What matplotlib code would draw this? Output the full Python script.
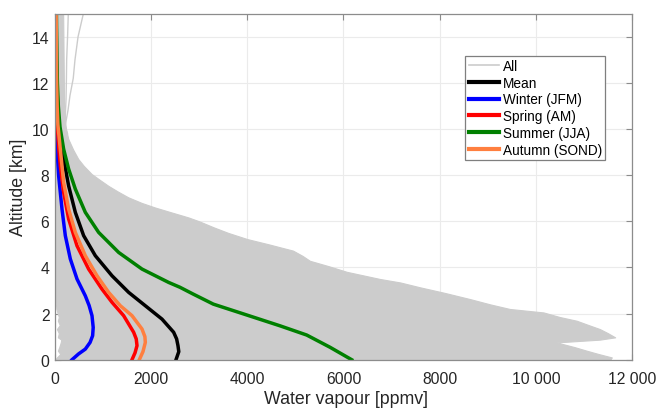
import matplotlib
matplotlib.use("Agg")
import matplotlib.pyplot as plt
from matplotlib.ticker import FuncFormatter

plt.rcParams['font.family'] = ['Liberation Sans', 'DejaVu Sans']

# Envolvente de todos los perfiles (altitud en km, vapor en ppmv)
todos_alt = [0.0, 0.1, 0.25, 0.39, 0.55, 0.75, 0.87, 0.97, 1.15, 1.33, 1.5, 1.69,
             1.85, 2.05, 2.2, 2.4, 2.63, 2.9, 3.14, 3.35, 3.5, 3.81, 4.05, 4.29,
             4.5, 4.73, 5.0, 5.23, 5.5, 5.74, 6.0, 6.17, 6.4, 6.6, 6.8, 7.04,
             7.3, 7.54, 7.8, 8.05, 8.4, 8.7, 9.1, 9.57, 10.0, 10.4, 11.0, 13.0, 15.0]
todos_max = [11550, 11580, 11300, 11060, 10800, 10430, 11330, 11650, 11500, 11330,
             11100, 10850, 10500, 10160, 9460, 9050, 8630, 8100, 7590, 7180, 6760,
             6070, 5700, 5300, 5150, 4950, 4450, 4000, 3600, 3300, 3000, 2773, 2400,
             2080, 1800, 1525, 1300, 1109, 930, 763, 600, 485, 380, 277, 230, 205,
             190, 180, 170]
todos_min = [0, 40, 110, 60, 90, 120, 130, 60, 80, 40, 100, 60,
             80, 50, 30, 20, 0, 0, 0, 0, 0, 0, 0, 0,
             0, 0, 0, 0, 0, 0, 0, 0, 0, 0, 0, 0,
             0, 0, 0, 0, 0, 0, 0, 0, 0, 0, 0, 0, 0]

# Perfiles sueltos por encima de la tropopausa
suelto1_alt = [9.8, 10.1, 10.8, 11.45, 12.2, 13.0, 14.0, 15.0]
suelto1_val = [260, 208, 270, 312, 380, 416, 480, 590]
suelto2_alt = [9.9, 10.6, 11.3, 12.2, 13.0, 14.0, 15.0]
suelto2_val = [210, 215, 230, 238, 243, 262, 277]

# Media
media_alt = [0.0, 0.35, 0.61, 0.9, 1.19, 1.76, 2.34, 2.92, 3.64, 4.51, 5.38, 6.39,
             7.54, 8.7, 9.5, 10.2, 11, 12, 13, 14, 15]
media_val = [2517, 2575, 2558, 2530, 2468, 2226, 1879, 1532, 1186, 839, 596, 423,
             284, 180, 120, 80, 55, 40, 32, 28, 25]

# Invierno (JFM)
inv_alt = [0.0, 0.25, 0.46, 0.75, 1.04, 1.4, 1.91, 2.35, 2.77, 3.5, 4.37, 5.38,
           6.53, 7.98, 9.13, 10.2, 11, 12, 13, 14, 15]
inv_val = [354, 490, 631, 730, 783, 795, 770, 710, 631, 458, 319, 215,
           146, 76, 42, 22, 15, 12, 10, 10, 10]

# Primavera (AM)
pri_alt = [0.0, 0.3, 0.61, 0.9, 1.19, 1.91, 2.49, 3.06, 3.93, 4.94, 6.1, 7.26,
           8.41, 9.13, 10.2, 11, 12, 13, 14, 15]
pri_val = [1602, 1665, 1706, 1690, 1636, 1428, 1186, 978, 700, 458, 284, 180,
           111, 80, 45, 35, 28, 25, 23, 22]

# Verano (JJA)
ver_alt = [0.0, 0.54, 1.07, 1.47, 1.94, 2.41, 2.85, 3.14, 3.35, 3.93, 4.65, 5.52,
           6.39, 7.4, 8.27, 9.13, 10.1, 11, 12, 13, 14, 15]
ver_val = [6171, 5720, 5235, 4680, 3987, 3293, 2870, 2600, 2365, 1810, 1325, 908,
           631, 423, 284, 180, 104, 70, 50, 40, 35, 30]

# Otoño (SOND)
oto_alt = [0.0, 0.35, 0.75, 1.0, 1.33, 1.91, 2.34, 2.92, 3.64, 4.51, 5.52, 6.53,
           7.69, 9.13, 10.2, 11, 12, 13, 14, 15]
oto_val = [1754, 1830, 1879, 1870, 1810, 1602, 1359, 1116, 874, 631, 423, 284,
           180, 111, 60, 45, 35, 30, 28, 25]

gris = '#cccccc'
fig = plt.figure(figsize=(6.56, 4.10), dpi=100)
ax = fig.add_axes([0.0838, 0.1202, 0.8796, 0.8439])

# Todos los perfiles
ax.fill_betweenx(todos_alt, todos_min, todos_max, color=gris, lw=0.8, edgecolor=gris)
ax.plot(suelto1_val, suelto1_alt, color=gris, lw=1)
ax.plot(suelto2_val, suelto2_alt, color=gris, lw=1)
ax.plot([], [], color=gris, lw=1, label='All')

ax.plot(media_val, media_alt, color='black', lw=2.5, label='Mean')
ax.plot(inv_val, inv_alt, color='#0000ff', lw=2.5, label='Winter (JFM)')
ax.plot(pri_val, pri_alt, color='#ff0000', lw=2.5, label='Spring (AM)')
ax.plot(ver_val, ver_alt, color='#008000', lw=2.5, label='Summer (JJA)')
ax.plot(oto_val, oto_alt, color='#ff7f3f', lw=2.5, label='Autumn (SOND)')

ax.set_xlim(0, 12000)
ax.set_ylim(0, 15)
ax.set_xticks(range(0, 12001, 2000))
ax.set_yticks(range(0, 15, 2))


def miles(v, pos):
    v = int(v)
    if v >= 10000:
        return f"{v // 1000} {v % 1000:03d}"
    return str(v)


ax.xaxis.set_major_formatter(FuncFormatter(miles))

ax.set_axisbelow(True)
ax.grid(True, color='#ebebeb', lw=0.8)
for s in ax.spines.values():
    s.set_color('#8c8c8c')
    s.set_linewidth(0.9)
ax.tick_params(direction='in', top=True, right=True, length=4, width=0.8,
               color='#8c8c8c', labelcolor='#262626', labelsize=11.3)
ax.tick_params(axis='x', pad=8)
ax.tick_params(axis='y', pad=4)

ax.set_xlabel("Water vapour [ppmv]", fontsize=12.8, color='#262626')
ax.set_ylabel("Altitude [km]", fontsize=12.8, color='#262626')
ax.xaxis.set_label_coords(0.504, -0.088)
ax.yaxis.set_label_coords(-0.048, 0.5)

leg = ax.legend(loc='upper left', bbox_to_anchor=(0.711, 0.879), borderaxespad=0,
                fontsize=9.8, fancybox=False, framealpha=1, edgecolor='#7f7f7f',
                handlelength=2.2, handletextpad=0.3, borderpad=0.25,
                labelspacing=0.2)
leg.get_frame().set_linewidth(0.9)
for linea in leg.get_lines():
    linea.set_linewidth(3.0)
leg.get_lines()[0].set_linewidth(1.2)

fig.savefig("out.png", dpi=100)
